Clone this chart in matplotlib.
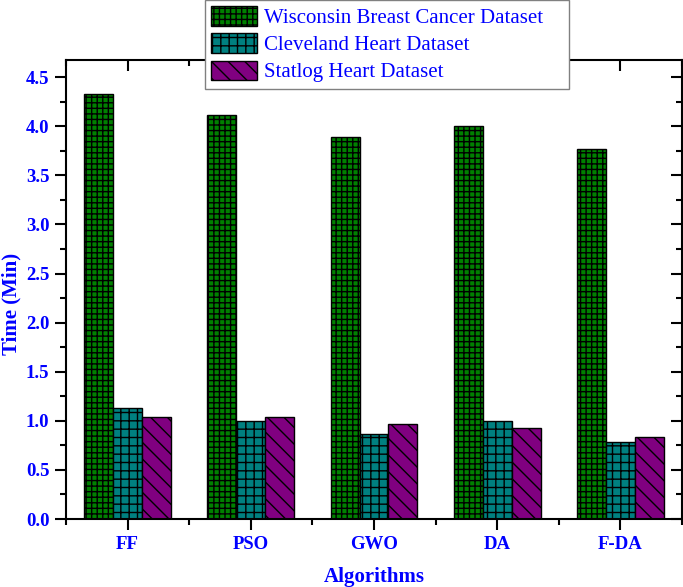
import numpy as np
import matplotlib
matplotlib.use('Agg')
import matplotlib.pyplot as plt
from matplotlib.ticker import MultipleLocator, FormatStrFormatter

algorithms = ['FF', 'PSO', 'GWO', 'DA', 'F-DA']
wisconsin = [4.33, 4.11, 3.89, 4.00, 3.77]
cleveland = [1.13, 1.00, 0.87, 1.00, 0.78]
statlog = [1.04, 1.04, 0.97, 0.93, 0.84]
labels = ['Wisconsin Breast Cancer Dataset', 'Cleveland Heart Dataset', 'Statlog Heart Dataset']

plt.rcParams['font.family'] = ['Liberation Serif', 'DejaVu Serif']
plt.rcParams['hatch.linewidth'] = 1.0

fig = plt.figure(figsize=(6.83, 5.87), dpi=100)
ax = fig.add_axes([0.0966, 0.1158, 0.9019, 0.7828])

x = np.arange(len(algorithms))
w = 0.235
series = [wisconsin, cleveland, statlog]
colors = ['#008000', '#008080', '#800080']
hatches = ['+++', '++', '\\\\']
for i, (vals, c, h, lab) in enumerate(zip(series, colors, hatches, labels)):
    ax.bar(x + (i - 1) * w, vals, w, color=c, edgecolor='black', hatch=h,
           linewidth=1.0, label=lab)

ax.set_xlim(-0.5, 4.5)
ax.set_ylim(0, 4.68)
ax.set_xticks(x)
ax.set_xticklabels(algorithms)
ax.xaxis.set_minor_locator(MultipleLocator(0.5))
ax.yaxis.set_major_locator(MultipleLocator(0.5))
ax.yaxis.set_minor_locator(MultipleLocator(0.25))
ax.yaxis.set_major_formatter(FormatStrFormatter('%.1f'))

for s in ax.spines.values():
    s.set_linewidth(1.5)
ax.tick_params(axis='both', which='major', length=8, width=1.5, direction='out',
               labelsize=13.5, labelcolor='blue', pad=4)
ax.tick_params(axis='both', which='minor', length=4, width=1.5, direction='out')
ax.tick_params(axis='both', which='both', top=True, right=True)
# top and right ticks point inward
for t in ax.xaxis.get_major_ticks() + ax.xaxis.get_minor_ticks():
    t.tick2line.set_marker(3)
for t in ax.yaxis.get_major_ticks() + ax.yaxis.get_minor_ticks():
    t.tick2line.set_marker(0)
for t in ax.get_xticklabels() + ax.get_yticklabels():
    t.set_fontweight('bold')

ax.set_xlabel('Algorithms', fontsize=15, fontweight='bold', color='blue', labelpad=10)
ax.set_ylabel('Time (Min)', fontsize=15, fontweight='bold', color='blue')
ax.yaxis.set_label_coords(-0.073, 0.468)

leg = fig.legend(loc='upper left', bbox_to_anchor=(0.300, 0.85, 0.533, 0.15), mode='expand',
                 fontsize=15, fancybox=False, edgecolor='gray', framealpha=1, borderaxespad=0,
                 handlelength=2.2, handleheight=1.05, labelspacing=0.26,
                 handletextpad=0.35, borderpad=0.3)
for t in leg.get_texts():
    t.set_color('blue')

fig.savefig('out.png', dpi=100)
